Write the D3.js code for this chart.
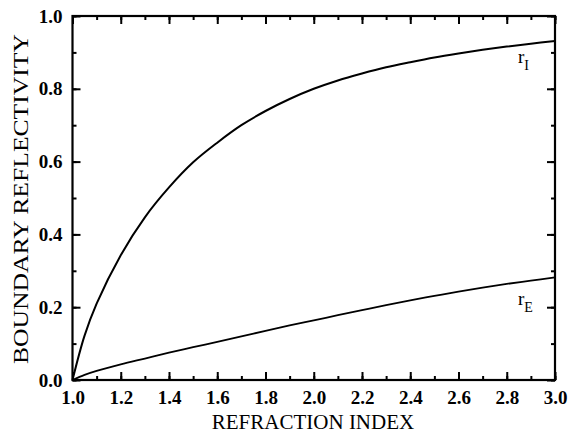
<!DOCTYPE html>
<html><head><meta charset="utf-8">
<script src="https://cdn.jsdelivr.net/npm/d3@7"></script>
<style>
html,body{margin:0;padding:0;background:#fff;}
svg text{font-family:"Liberation Serif","Times New Roman",serif !important;fill:#000;}
</style></head>
<body><svg id="c" width="580" height="443"></svg>
<script>
// refraction index grid
const nValues = [1.0,1.05,1.1,1.2,1.3,1.4,1.5,1.6,1.7,1.8,1.9,2.0,2.1,2.2,2.3,2.4,2.5,2.6,2.7,2.8,2.9,3.0];
// internal boundary reflectivity r_I
const rI = [0.0,0.122,0.210,0.343,0.447,0.529,0.598,0.652,0.700,0.739,0.772,0.800,0.823,0.842,0.859,0.873,0.886,0.897,0.907,0.916,0.924,0.931];
// external boundary reflectivity r_E
const rE = [0.0,0.014,0.025,0.043,0.059,0.075,0.090,0.105,0.120,0.135,0.150,0.164,0.178,0.192,0.206,0.219,0.231,0.243,0.254,0.264,0.273,0.282];
const xTickLabels = [1.0,1.2,1.4,1.6,1.8,2.0,2.2,2.4,2.6,2.8,3.0];
const yTickLabels = [0.0,0.2,0.4,0.6,0.8,1.0];
const xMinor = d3.range(10,31).map(d=>d/10);
const yMinor = d3.range(0,11).map(d=>d/10);

const svg = d3.select("#c");
const x = d3.scaleLinear().domain([1,3]).range([72.5,555]);
const y = d3.scaleLinear().domain([0,1]).range([380,16]);

function styleAxis(g){
  g.attr("font-family",null).attr("font-size",null);
  g.select(".domain").remove();
  g.selectAll("line").attr("stroke","#000").attr("stroke-width",2);
}
const fmt = d3.format(".1f");
// bottom
svg.append("g").attr("transform",`translate(0,${y(0)})`)
  .call(d3.axisBottom(x).tickValues(xMinor).tickSize(-4).tickFormat("")).call(styleAxis);
svg.append("g").attr("transform",`translate(0,${y(0)})`)
  .call(d3.axisBottom(x).tickValues(xTickLabels).tickSize(-8).tickPadding(11).tickFormat(fmt)).call(styleAxis)
  .selectAll("text").style("font-size","19px").style("font-weight","bold");
// top
svg.append("g").attr("transform",`translate(0,${y(1)})`)
  .call(d3.axisTop(x).tickValues(xMinor).tickSize(-4).tickFormat("")).call(styleAxis);
svg.append("g").attr("transform",`translate(0,${y(1)})`)
  .call(d3.axisTop(x).tickValues(xTickLabels).tickSize(-8).tickFormat("")).call(styleAxis);
// left
svg.append("g").attr("transform",`translate(${x(1)},0)`)
  .call(d3.axisLeft(y).tickValues(yMinor).tickSize(-4).tickFormat("")).call(styleAxis);
svg.append("g").attr("transform",`translate(${x(1)},0)`)
  .call(d3.axisLeft(y).tickValues(yTickLabels).tickSize(-8).tickPadding(10).tickFormat(fmt)).call(styleAxis)
  .selectAll("text").style("font-size","19px").style("font-weight","bold");
// right
svg.append("g").attr("transform",`translate(${x(3)},0)`)
  .call(d3.axisRight(y).tickValues(yMinor).tickSize(-4).tickFormat("")).call(styleAxis);
svg.append("g").attr("transform",`translate(${x(3)},0)`)
  .call(d3.axisRight(y).tickValues(yTickLabels).tickSize(-8).tickFormat("")).call(styleAxis);

// frame
svg.append("rect").attr("x",x(1)).attr("y",y(1)).attr("width",x(3)-x(1)).attr("height",y(0)-y(1))
  .attr("fill","none").attr("stroke","#000").attr("stroke-width",2.2);

const line = d3.line().x(d=>x(d[0])).y(d=>y(d[1])).curve(d3.curveCatmullRom);
svg.append("path").datum(nValues.map((n,i)=>[n,rI[i]])).attr("d",line)
  .attr("fill","none").attr("stroke","#000").attr("stroke-width",2);
svg.append("path").datum(nValues.map((n,i)=>[n,rE[i]])).attr("d",line)
  .attr("fill","none").attr("stroke","#000").attr("stroke-width",1.8);

// curve labels
const lI = svg.append("text").attr("x",518).attr("y",y(0.87)).style("font-size","19px");
lI.append("tspan").text("r");
lI.append("tspan").attr("dy",7).style("font-size","14px").text("I");
const lE = svg.append("text").attr("x",518).attr("y",y(0.205)).style("font-size","19px");
lE.append("tspan").text("r");
lE.append("tspan").attr("dy",7).style("font-size","14px").text("E");

// axis titles
svg.append("text").attr("x",313).attr("y",429).attr("text-anchor","middle").style("font-size","21px")
  .text("REFRACTION INDEX");
svg.append("text").attr("transform","translate(28,199) rotate(-90)").attr("text-anchor","middle")
  .style("font-size","21px").attr("textLength",330).attr("lengthAdjust","spacingAndGlyphs")
  .text("BOUNDARY REFLECTIVITY");
</script></body></html>
